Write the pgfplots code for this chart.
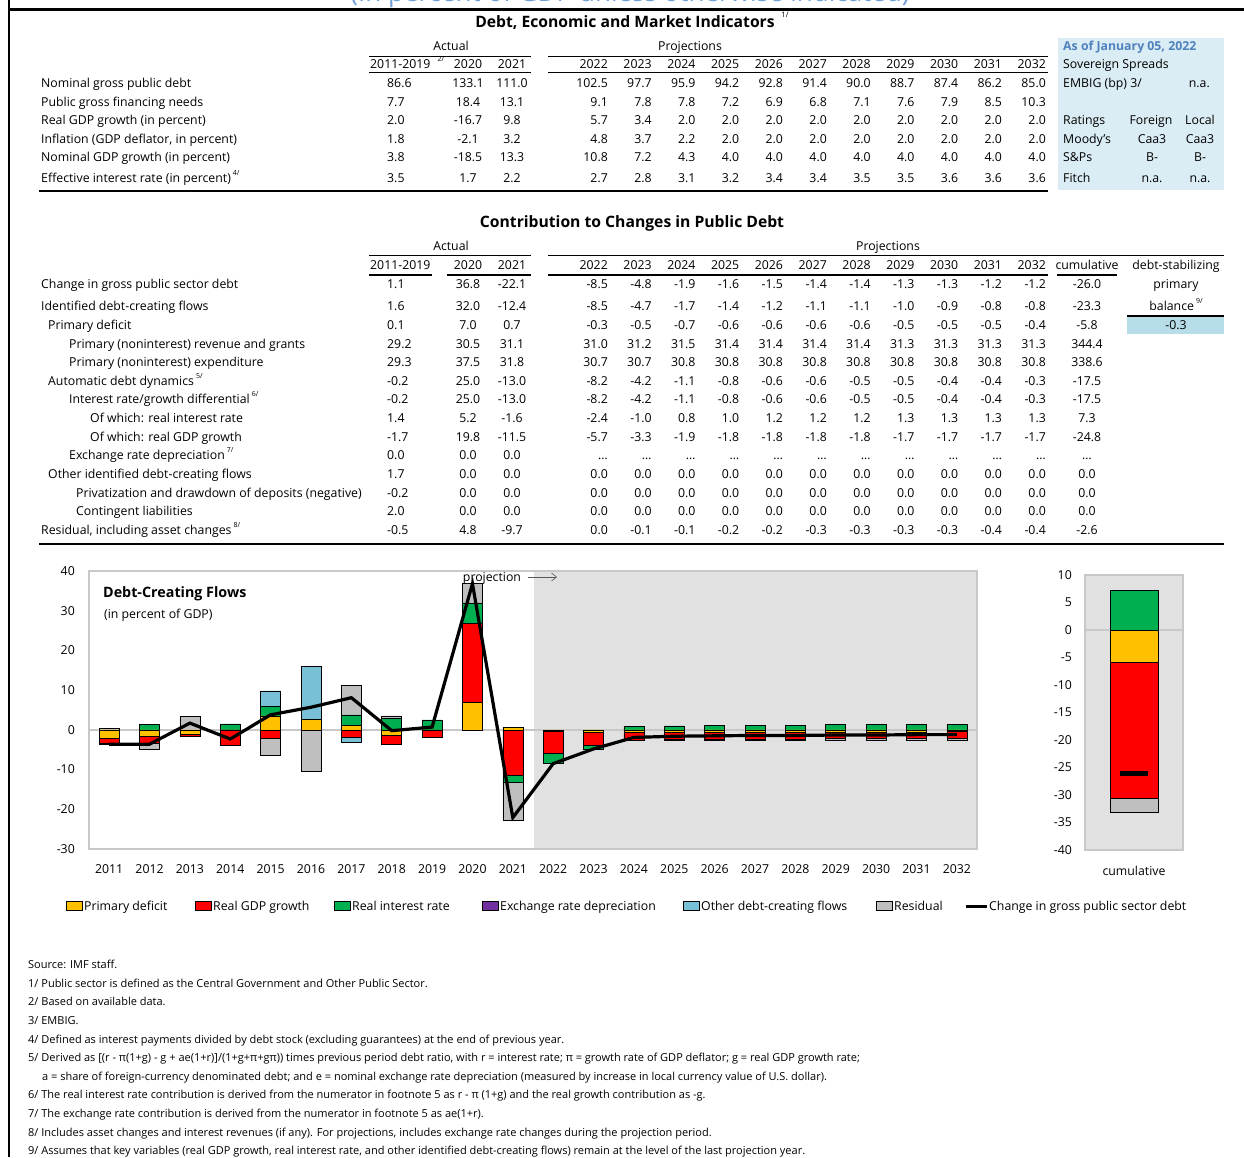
\documentclass[border=0pt]{standalone}
\usepackage{pgfplots}
\pgfplotsset{compat=1.18}
\usepackage{pgfplotstable}
\usepackage{fontspec}
\setmainfont{Open Sans}
\usetikzlibrary{arrows.meta}
\definecolor{cY}{HTML}{FFC000}
\definecolor{cR}{HTML}{FF0000}
\definecolor{cG}{HTML}{00B050}
\definecolor{cP}{HTML}{7030A0}
\definecolor{cB}{HTML}{78C0D5}
\definecolor{cS}{HTML}{BFBFBF}
\definecolor{shade}{HTML}{E1E1E1}
\definecolor{frame}{HTML}{C8C8C8}
\definecolor{boxblue}{HTML}{DAECF4}
\definecolor{cellblue}{HTML}{B7DEE8}
\definecolor{hdblue}{HTML}{4F81BD}
\definecolor{topblue}{HTML}{6FA0D8}
\newcommand\tf{\fontsize{12.3}{14}\selectfont}
\newcommand\ff{\fontsize{11}{13}\selectfont}
\newcommand\hf{\fontsize{15.7}{18}\selectfont\bfseries}
\newcommand\sups[1]{\,\raisebox{0.5em}{\fontsize{7}{8}\selectfont #1}}
% year-by-year contributions: P primary deficit, G real GDP growth, R real interest rate,
% E exchange rate, O other flows, S residual, L change in gross public sector debt
\pgfplotstableread{
x P G R E O S L
0 -2.1 -1.2 -0.4 0 0 0.3 -3.6
1 -1.5 -1.8 1.4 0 0 -1.7 -3.6
2 -1.0 -0.7 0 0 0 3.4 1.7
3 0 -3.9 1.5 0 0 0 -2.3
4 3.5 -2.2 2.4 0 3.9 -4.1 3.8
5 2.7 0 0 0 13.3 -10.3 5.7
6 1.1 -1.9 2.7 0 -1.1 7.4 8.1
7 -1.4 -2.3 2.9 0 0 0.6 -0.2
8 0 -1.9 2.5 0 0 0 0.7
9 7.0 19.8 5.2 0 0 4.8 36.8
10 0.7 -11.5 -1.6 0 0 -9.7 -22.1
11 -0.3 -5.7 -2.4 0 0 0.0 -8.5
12 -0.5 -3.3 -1.0 0 0 -0.1 -4.8
13 -0.7 -1.9 0.8 0 0 -0.1 -1.9
14 -0.6 -1.8 1.0 0 0 -0.2 -1.6
15 -0.6 -1.8 1.2 0 0 -0.2 -1.5
16 -0.6 -1.8 1.2 0 0 -0.3 -1.4
17 -0.6 -1.8 1.2 0 0 -0.3 -1.4
18 -0.5 -1.7 1.3 0 0 -0.3 -1.3
19 -0.5 -1.7 1.3 0 0 -0.3 -1.3
20 -0.5 -1.7 1.3 0 0 -0.4 -1.2
21 -0.4 -1.7 1.3 0 0 -0.4 -1.2
}\flows
\newcommand\proj[2]{\foreach \v [count=\i from 0] in {#2} {\node[N] at ({608+43.8*\i},#1) {\v};}}
\newcommand\row[6]{\node[L] at (#2,#1) {#3}; \node[L] at (387,#1) {#4}; \node[C] at (468,#1) {#5}; \node[C] at (512,#1) {#6};}
\begin{document}
\begin{tikzpicture}
\useasboundingbox (0,0) rectangle (1244pt,-1157pt);
\fill[white] (0,0) rectangle (1244pt,-1157pt);
% ---------- main chart: projection shading ----------
\begin{axis}[at={(89pt,-571pt)}, anchor=north west,
 scale only axis, width=888pt, height=278pt,
 xmin=-0.5, xmax=21.5, ymin=-30, ymax=40, hide axis]
\addplot[fill=shade, draw=none] coordinates {(10.53,-30) (21.5,-30) (21.5,40) (10.53,40) (10.53,-30)};
\end{axis}
% ---------- main chart: stacked bars ----------
\begin{axis}[at={(89pt,-571pt)}, anchor=north west,
 scale only axis, width=888pt, height=278pt,
 xmin=-0.5, xmax=21.5, ymin=-30, ymax=40,
 ybar stacked, bar width=20pt,
 axis line style={draw=frame, line width=1.5pt},
 ytick={-30,-20,-10,0,10,20,30,40}, yticklabels={-30,-20,-10,0,10,20,30,40},
 xtick={0,1,2,3,4,5,6,7,8,9,10,11,12,13,14,15,16,17,18,19,20,21},
 xticklabels={2011,2012,2013,2014,2015,2016,2017,2018,2019,2020,2021,2022,2023,2024,2025,2026,2027,2028,2029,2030,2031,2032},
 tick label style={font=\tf},
 yticklabel style={inner sep=0pt, xshift=-14pt},
 xticklabel style={inner sep=0pt, yshift=-15pt},
 major tick length=0pt,
 extra y ticks={0}, extra y tick labels={},
 extra y tick style={grid=major, major grid style={draw=frame, line width=1.5pt}},
]
\addplot[fill=cY, draw=black, line width=0.5pt] table[x=x, y=P] {\flows};
\addplot[fill=cR, draw=black, line width=0.5pt] table[x=x, y=G] {\flows};
\addplot[fill=cG, draw=black, line width=0.5pt] table[x=x, y=R] {\flows};
\addplot[fill=cP, draw=black, line width=0.5pt] table[x=x, y=E] {\flows};
\addplot[fill=cB, draw=black, line width=0.5pt] table[x=x, y=O] {\flows};
\addplot[fill=cS, draw=black, line width=0.5pt] table[x=x, y=S] {\flows};
\end{axis}
% ---------- main chart: line ----------
\begin{axis}[at={(89pt,-571pt)}, anchor=north west,
 scale only axis, width=888pt, height=278pt,
 xmin=-0.5, xmax=21.5, ymin=-30, ymax=40, hide axis]
\addplot[black, line width=3.2pt, sharp plot, mark=none] table[x=x, y=L] {\flows};
\end{axis}
% ---------- cumulative chart ----------
\begin{axis}[at={(1085pt,-575pt)}, anchor=north west,
 scale only axis, width=98pt, height=275pt,
 xmin=-1, xmax=1, ymin=-40, ymax=10,
 ybar stacked, bar width=48pt,
 axis background/.style={fill=shade},
 axis line style={draw=frame, line width=1.5pt},
 ytick={-40,-35,-30,-25,-20,-15,-10,-5,0,5,10},
 yticklabels={-40,-35,-30,-25,-20,-15,-10,-5,0,5,10},
 xtick={0}, xticklabels={cumulative},
 tick label style={font=\tf},
 yticklabel style={inner sep=0pt, xshift=-13pt},
 xticklabel style={inner sep=0pt, yshift=-16pt},
 major tick length=0pt,
 extra y ticks={0}, extra y tick labels={},
 extra y tick style={grid=major, major grid style={draw=frame, line width=1.5pt}},
]
\addplot[fill=cY, draw=black, line width=0.5pt] coordinates {(0,-5.8)};
\addplot[fill=cR, draw=black, line width=0.5pt] coordinates {(0,-24.8)};
\addplot[fill=cG, draw=black, line width=0.5pt] coordinates {(0,7.3)};
\addplot[fill=cS, draw=black, line width=0.5pt] coordinates {(0,-2.6)};
\end{axis}
\begin{axis}[at={(1085pt,-575pt)}, anchor=north west,
 scale only axis, width=98pt, height=275pt,
 xmin=-1, xmax=1, ymin=-40, ymax=10, hide axis]
\addplot[only marks, mark=-, mark size=14pt, mark options={line width=5pt, black}] coordinates {(0,-26.0)};
\end{axis}
% ---------- text, tables, legend ----------
\begin{scope}[x=1pt, y=-1pt, every node/.style={inner sep=0pt, font=\tf},
 L/.style={anchor=base west}, N/.style={anchor=base east}, C/.style={anchor=base}]
\node[anchor=base, text=topblue, font=\fontsize{26}{30}\selectfont] at (630,1) {(In percent of GDP unless otherwise indicated)};
\draw[line width=2pt] (9,0) -- (9,1157);
\draw[line width=3pt] (9,9) -- (1244,9);
% table 1
\node[C, font=\hf] at (625,27) {Debt, Economic and Market Indicators};
\node[font=\fontsize{7.5}{8}\selectfont] at (785,15) {1/};
\node[C] at (451,50) {Actual};
\node[C] at (690,50) {Projections};
\draw[line width=0.8pt] (369,56) -- (531,56) (548,56) -- (1048,56);
\node[L] at (370,68) {2011-2019};
\node[font=\fontsize{7}{8}\selectfont] at (441,59) {2/};
\node[C] at (468,68) {2020}; \node[C] at (512,68) {2021};
\proj{68}{2022,2023,2024,2025,2026,2027,2028,2029,2030,2031,2032}
\draw[line width=1.3pt] (369,72.5) -- (531,72.5) (548,72.5) -- (1048,72.5);
\row{87}{41}{Nominal gross public debt}{86.6}{133.1}{111.0}
\proj{87}{102.5,97.7,95.9,94.2,92.8,91.4,90.0,88.7,87.4,86.2,85.0}
\row{106}{41}{Public gross financing needs}{7.7}{18.4}{13.1}
\proj{106}{9.1,7.8,7.8,7.2,6.9,6.8,7.1,7.6,7.9,8.5,10.3}
\row{124}{41}{Real GDP growth (in percent)}{2.0}{-16.7}{9.8}
\proj{124}{5.7,3.4,2.0,2.0,2.0,2.0,2.0,2.0,2.0,2.0,2.0}
\row{143}{41}{Inflation (GDP deflator, in percent)}{1.8}{-2.1}{3.2}
\proj{143}{4.8,3.7,2.2,2.0,2.0,2.0,2.0,2.0,2.0,2.0,2.0}
\row{161}{41}{Nominal GDP growth (in percent)}{3.8}{-18.5}{13.3}
\proj{161}{10.8,7.2,4.3,4.0,4.0,4.0,4.0,4.0,4.0,4.0,4.0}
\row{182}{41}{Effective interest rate (in percent)\sups{4/}}{3.5}{1.7}{2.2}
\proj{182}{2.7,2.8,3.1,3.2,3.4,3.4,3.5,3.5,3.6,3.6,3.6}
\draw[line width=1.6pt] (39,191) -- (1048,191);
% market box
\fill[boxblue] (1058,38) rectangle (1224,190);
\node[L, text=hdblue, font=\tf\bfseries] at (1063,50) {As of January 05, 2022};
\node[L] at (1063,68) {Sovereign Spreads};
\node[L] at (1063,87) {EMBIG (bp) 3/};
\node[N] at (1210,87) {n.a.};
\node[L] at (1063,124) {Ratings};
\node[C] at (1151,124) {Foreign}; \node[C] at (1200,124) {Local};
\node[L] at (1063,143) {Moody's};
\node[C] at (1152,143) {Caa3}; \node[C] at (1200,143) {Caa3};
\node[L] at (1063,161) {S\&Ps};
\node[C] at (1152,161) {B-}; \node[C] at (1200,161) {B-};
\node[L] at (1063,182) {Fitch};
\node[C] at (1152,182) {n.a.}; \node[C] at (1200,182) {n.a.};
% table 2
\node[C, font=\hf] at (632,227) {Contribution to Changes in Public Debt};
\node[C] at (451,250) {Actual};
\node[C] at (888,250) {Projections};
\draw[line width=0.8pt] (369,255.5) -- (531,255.5) (548,255.5) -- (1224,255.5);
\node[L] at (370,269) {2011-2019};
\node[C] at (468,269) {2020}; \node[C] at (512,269) {2021};
\proj{269}{2022,2023,2024,2025,2026,2027,2028,2029,2030,2031,2032}
\node[C] at (1087,269) {cumulative};
\node[C] at (1176,269) {debt-stabilizing};
\node[C] at (1176,288) {primary};
\node[C] at (1176,310) {balance\sups{9/}};
\draw[line width=1.3pt] (369,275) -- (432,275) (447,275) -- (531,275) (548,275) -- (1048,275) (1057,275) -- (1117,275);
\draw[line width=1.3pt] (1127,316) -- (1224,316);
\fill[cellblue] (1127,317) rectangle (1224,334);
\node[C] at (1176,329) {-0.3};
\row{288}{41}{Change in gross public sector debt}{1.1}{36.8}{-22.1}
\proj{288}{-8.5,-4.8,-1.9,-1.6,-1.5,-1.4,-1.4,-1.3,-1.3,-1.2,-1.2}
\node[C] at (1087,288) {-26.0};
\row{310}{41}{Identified debt-creating flows}{1.6}{32.0}{-12.4}
\proj{310}{-8.5,-4.7,-1.7,-1.4,-1.2,-1.1,-1.1,-1.0,-0.9,-0.8,-0.8}
\node[C] at (1087,310) {-23.3};
\row{329}{48}{Primary deficit}{0.1}{7.0}{0.7}
\proj{329}{-0.3,-0.5,-0.7,-0.6,-0.6,-0.6,-0.6,-0.5,-0.5,-0.5,-0.4}
\node[C] at (1087,329) {-5.8};
\row{348}{69}{Primary (noninterest) revenue and grants}{29.2}{30.5}{31.1}
\proj{348}{31.0,31.2,31.5,31.4,31.4,31.4,31.4,31.3,31.3,31.3,31.3}
\node[C] at (1087,348) {344.4};
\row{366}{69}{Primary (noninterest) expenditure}{29.3}{37.5}{31.8}
\proj{366}{30.7,30.7,30.8,30.8,30.8,30.8,30.8,30.8,30.8,30.8,30.8}
\node[C] at (1087,366) {338.6};
\row{385}{48}{Automatic debt dynamics\sups{5/}}{-0.2}{25.0}{-13.0}
\proj{385}{-8.2,-4.2,-1.1,-0.8,-0.6,-0.6,-0.5,-0.5,-0.4,-0.4,-0.3}
\node[C] at (1087,385) {-17.5};
\row{403}{69}{Interest rate/growth differential\sups{6/}}{-0.2}{25.0}{-13.0}
\proj{403}{-8.2,-4.2,-1.1,-0.8,-0.6,-0.6,-0.5,-0.5,-0.4,-0.4,-0.3}
\node[C] at (1087,403) {-17.5};
\row{422}{90}{Of which: real interest rate}{1.4}{5.2}{-1.6}
\proj{422}{-2.4,-1.0,0.8,1.0,1.2,1.2,1.2,1.3,1.3,1.3,1.3}
\node[C] at (1087,422) {7.3};
\row{441}{90}{Of which: real GDP growth}{-1.7}{19.8}{-11.5}
\proj{441}{-5.7,-3.3,-1.9,-1.8,-1.8,-1.8,-1.8,-1.7,-1.7,-1.7,-1.7}
\node[C] at (1087,441) {-24.8};
\row{459}{69}{Exchange rate depreciation\sups{7/}}{0.0}{0.0}{0.0}
\proj{459}{\dots,\dots,\dots,\dots,\dots,\dots,\dots,\dots,\dots,\dots,\dots}
\node[C] at (1087,459) {\dots};
\row{478}{48}{Other identified debt-creating flows}{1.7}{0.0}{0.0}
\proj{478}{0.0,0.0,0.0,0.0,0.0,0.0,0.0,0.0,0.0,0.0,0.0}
\node[C] at (1087,478) {0.0};
\row{497}{76}{Privatization and drawdown of deposits (negative)}{-0.2}{0.0}{0.0}
\proj{497}{0.0,0.0,0.0,0.0,0.0,0.0,0.0,0.0,0.0,0.0,0.0}
\node[C] at (1087,497) {0.0};
\row{515}{76}{Contingent liabilities}{2.0}{0.0}{0.0}
\proj{515}{0.0,0.0,0.0,0.0,0.0,0.0,0.0,0.0,0.0,0.0,0.0}
\node[C] at (1087,515) {0.0};
\row{534}{41}{Residual, including asset changes\sups{8/}}{-0.5}{4.8}{-9.7}
\proj{534}{0.0,-0.1,-0.1,-0.2,-0.2,-0.3,-0.3,-0.3,-0.3,-0.4,-0.4}
\node[C] at (1087,534) {-2.6};
\draw[line width=1.3pt] (39,544) -- (1224,544);
% chart annotations
\node[L, font=\fontsize{14.3}{16}\selectfont\bfseries] at (103,597) {Debt-Creating Flows};
\node[L] at (104,618) {(in percent of GDP)};
\node[C] at (492,581) {projection};
\draw[gray!70!black, line width=0.6pt, -{Straight Barb[length=5pt,width=8pt]}] (528,577) -- (557,577);
% legend
\foreach \c/\bx/\tx/\t in {cY/66/84/Primary deficit, cR/195/213/Real GDP growth, cG/334/352/Real interest rate, cP/482/500/Exchange rate depreciation, cB/683/701/Other debt-creating flows, cS/876/894/Residual} {
 \filldraw[fill=\c, draw=black, line width=0.6pt] (\bx,901.5) rectangle ++(16,9);
 \node[L] at (\tx,910) {\t};
}
\draw[line width=3pt] (966,906) -- (987,906);
\node[L] at (989,910) {Change in gross public sector debt};
% footnotes
\begin{scope}[every node/.style={inner sep=0pt, font=\ff, anchor=base west}]
\node at (28,968.5) {Source: IMF staff.};
\node at (28,987.5) {1/ Public sector is defined as the Central Government and Other Public Sector.};
\node at (28,1005.5) {2/ Based on available data.};
\node at (28,1024.5) {3/ EMBIG.};
\node at (28,1043.5) {4/ Defined as interest payments divided by debt stock (excluding guarantees) at the end of previous year.};
\node at (28,1061.5) {5/ Derived as [(r - π(1+g) - g + ae(1+r)]/(1+g+π+gπ)) times previous period debt ratio, with r = interest rate; π = growth rate of GDP deflator; g = real GDP growth rate;};
\node at (42,1080.5) {a = share of foreign-currency denominated debt; and e = nominal exchange rate depreciation (measured by increase in local currency value of U.S. dollar).};
\node at (28,1098.5) {6/ The real interest rate contribution is derived from the numerator in footnote 5 as r - π (1+g) and the real growth contribution as -g.};
\node at (28,1117.5) {7/ The exchange rate contribution is derived from the numerator in footnote 5 as ae(1+r).};
\node at (28,1136.5) {8/ Includes asset changes and interest revenues (if any). For projections, includes exchange rate changes during the projection period.};
\node at (28,1154.5) {9/ Assumes that key variables (real GDP growth, real interest rate, and other identified debt-creating flows) remain at the level of the last projection year.};
\end{scope}
\end{scope}
\end{tikzpicture}
\end{document}
